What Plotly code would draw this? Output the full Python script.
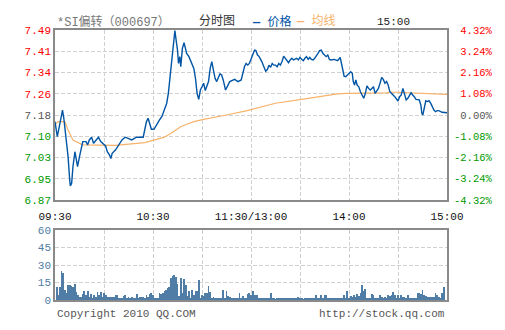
import plotly.graph_objects as go

# ---------------- data ----------------
prev_close = 7.18
pct_ticks = [-4.32, -3.24, -2.16, -1.08, 0.00, 1.08, 2.16, 3.24, 4.32]
price_tick_labels = ["6.87", "6.95", "7.03", "7.10", "7.18", "7.26", "7.34", "7.41", "7.49"]
pct_tick_labels = ["-4.32%", "-3.24%", "-2.16%", "-1.08%", "0.00%", "1.08%", "2.16%", "3.24%", "4.32%"]
time_tick_minutes = [0, 30, 60, 90, 120, 150, 180, 210, 240]
time_tick_labels = ["09:30", "", "10:30", "", "11:30/13:00", "", "14:00", "", "15:00"]
vol_tick_values = [0, 15, 30, 45, 60]

price_minutes = [0, 1.4, 2.6, 4, 4.6, 5.4, 6.6, 8, 9, 9.4, 10.2, 11, 12.2, 13, 13.8, 15, 16, 17, 19, 20,
                 21, 22.4, 23.6, 25, 26.6, 28, 29, 31, 32, 33.4, 34.2, 35, 37, 39, 41, 43, 45, 47, 48.6, 50,
                 54, 55, 56, 57, 58, 59, 60.6, 61.4, 62.6, 64, 65.4, 67, 68.4, 69.4, 70.4, 71.4, 72.6, 73.4, 74, 75,
                 75.6, 76.4, 77, 78, 79, 79.6, 80.6, 82, 83.4, 85, 86, 87, 88, 89, 90, 91, 92, 93, 94, 95,
                 96, 97, 98, 99, 100, 101, 102, 103, 104.4, 105, 107, 110, 112, 114, 115, 116, 117, 118, 119, 120,
                 121, 122.2, 123, 124, 125, 126.6, 128, 129, 130, 131, 132, 133, 134, 135, 136, 137, 138, 139, 140, 141,
                 142, 143, 144, 145, 146, 147, 148, 149, 150, 151, 152, 153, 154, 155, 156, 157, 158, 159, 160, 161,
                 162, 163, 164, 165, 166, 167, 168, 169, 171, 173, 174, 174.6, 175.4, 176.2, 177, 178, 179, 180, 181, 182,
                 182.6, 183.4, 184.2, 185, 186, 187, 188, 189, 190, 191, 192, 193, 194, 195, 196, 197, 198, 199, 200, 201,
                 202, 203, 204, 205, 206, 207, 208, 209, 210, 211, 212, 213, 214, 215, 216, 217, 218, 219, 220, 221,
                 222, 223, 224, 224.6, 225.2, 226, 227, 228, 229, 230, 231, 232, 233, 234, 235, 236, 237, 240]
price_values = [7.156, 7.101, 7.137, 7.180, 7.198, 7.168, 7.107, 7.028, 6.943, 6.921, 6.931, 6.992, 7.046, 7.016, 6.992, 7.028, 7.058, 7.083, 7.083, 7.071,
                7.089, 7.099, 7.077, 7.089, 7.099, 7.083, 7.077, 7.067, 7.046, 7.034, 7.021, 7.040, 7.052, 7.071, 7.089, 7.099, 7.095, 7.089, 7.095, 7.099,
                7.099, 7.125, 7.156, 7.168, 7.150, 7.128, 7.128, 7.137, 7.150, 7.162, 7.174, 7.198, 7.223, 7.259, 7.320, 7.381, 7.454, 7.488, 7.460, 7.417,
                7.368, 7.393, 7.356, 7.423, 7.444, 7.429, 7.405, 7.393, 7.375, 7.350, 7.314, 7.259, 7.237, 7.271, 7.283, 7.296, 7.269, 7.289, 7.302, 7.350,
                7.375, 7.344, 7.314, 7.302, 7.320, 7.330, 7.326, 7.308, 7.271, 7.277, 7.302, 7.310, 7.302, 7.308, 7.338, 7.356, 7.368, 7.362, 7.368, 7.387,
                7.399, 7.417, 7.415, 7.399, 7.393, 7.375, 7.356, 7.340, 7.346, 7.362, 7.354, 7.368, 7.362, 7.362, 7.356, 7.368, 7.362, 7.375, 7.395, 7.387,
                7.375, 7.371, 7.381, 7.387, 7.381, 7.383, 7.387, 7.381, 7.390, 7.383, 7.378, 7.387, 7.393, 7.383, 7.390, 7.383, 7.381, 7.387, 7.399, 7.405,
                7.415, 7.417, 7.405, 7.399, 7.393, 7.399, 7.383, 7.381, 7.383, 7.378, 7.387, 7.390, 7.368, 7.338, 7.322, 7.320, 7.326, 7.330, 7.338, 7.332,
                7.302, 7.289, 7.308, 7.289, 7.283, 7.265, 7.253, 7.241, 7.259, 7.286, 7.277, 7.271, 7.277, 7.283, 7.259, 7.271, 7.277, 7.296, 7.317, 7.310,
                7.296, 7.302, 7.289, 7.265, 7.257, 7.253, 7.247, 7.237, 7.231, 7.247, 7.253, 7.277, 7.253, 7.235, 7.241, 7.253, 7.261, 7.253, 7.247, 7.237,
                7.235, 7.235, 7.216, 7.186, 7.180, 7.204, 7.232, 7.229, 7.232, 7.223, 7.210, 7.198, 7.192, 7.196, 7.196, 7.192, 7.190, 7.188]

avg_minutes = [0, 2, 6, 8, 11, 14, 17, 37, 55, 61, 67, 71, 74, 77, 81, 85, 91, 97, 105, 117,
               135, 151, 165, 173, 179, 203, 205, 209, 235, 240]
avg_values = [7.145, 7.156, 7.156, 7.125, 7.089, 7.079, 7.071, 7.069, 7.079, 7.089, 7.099, 7.113, 7.125, 7.137, 7.147, 7.156, 7.164, 7.172, 7.180, 7.195,
              7.223, 7.237, 7.249, 7.257, 7.259, 7.261, 7.264, 7.263, 7.257, 7.255]

volume_values = [11, 4.6, 11, 24.6, 23, 8.6, 6.3, 12.9, 12.9, 12, 11, 13.7, 6.9, 4, 2.9, 2.9, 5.1, 7.7, 4.6, 7.7,
                 2.3, 5.1, 2, 4, 2.9, 6.9, 4, 6.9, 2.3, 6.3, 4, 2.9, 2.3, 2.9, 2.3, 2.9, 4, 4.6, 2, 2,
                 1.7, 3.4, 4.6, 2, 2.9, 1.1, 2.9, 2, 1.1, 5.1, 2, 2.9, 2.9, 2.9, 2, 4, 2.9, 5.1, 5.7,
                 4, 1.7, 1.1, 2, 6.3, 5.1, 5.7, 7.7, 8.6, 10.3, 10.9, 18.9, 21, 21.7, 20, 13.4, 3.4, 18.9, 6.3, 18.3,
                 12.6, 3.4, 7.7, 2, 8.6, 4, 7.7, 7.7, 17, 1.7, 4, 3.4, 6.3, 5.7, 12, 6.9, 1.7, 2.3, 1.7, 1.1,
                 1.1, 1.7, 1.1, 8.6, 1.1, 7.7, 3.4, 2.9, 1.1, 1.7, 1.1, 1.7, 1.1, 5.7, 1.1, 3.4, 1.7, 1.1, 4.9, 5.7,
                 4.6, 8, 4.6, 4.6, 4.6, 1.1, 1.7, 1.1, 1.7, 2, 1.1, 1.1, 6.3, 1.1, 1.1, 0.6, 1.1, 1.7, 1.7, 1.7,
                 1.1, 0.9, 1.7, 1.1, 0.9, 1.1, 1.7, 1.1, 1.7, 2.9, 1.1, 1.1, 0.6, 0.9, 1.1, 1.7, 0.9, 1.7, 1.1, 1.1,
                 4, 1.1, 1.7, 4, 2, 4.6, 4, 2, 1.1, 1.7, 0.9, 2, 1.1, 2, 1.7, 2, 1.1, 4, 1.7, 8,
                 2, 3.4, 2.3, 4, 2.9, 5.1, 3.4, 6.3, 12.6, 8, 9.7, 2, 1.1, 1.1, 5.1, 4.6, 1.1, 1.7, 1.1, 4.6,
                 2.9, 2, 2.9, 1.1, 4, 3.4, 4.6, 6.9, 4.6, 1.7, 4.6, 2, 4, 2.9, 2.9, 1.7, 4, 1.1, 1.1, 1.7,
                 1.7, 2, 5.7, 5.7, 5.1, 9, 4.6, 3.4, 2.9, 2.9, 2.9, 2.9, 2.9, 5.7, 4, 2.9, 1.1, 5.7, 10.9]
volume_minutes = list(range(1, len(volume_values) + 1))

# ---------------- styling ----------------
FONT = "Liberation Mono, Noto Sans CJK SC, monospace"
GRID = "#d0d0d0"
DASH = "4px,2px"
FRAME = "#8a8a8a"
BLUE = "#0055a5"
ORANGE = "#f7b26b"
VOLC = "#4f7da6"
NB = "\u00a0"


def colored(lbl, pct, width=0):
    c = "#ff0000" if pct > 0 else ("#009900" if pct < 0 else "#555555")
    return f"<span style='color:{c}'>{lbl.rjust(width, NB)}</span>"


tickvals_price = [prev_close * (1 + p / 100) for p in pct_ticks]
left_text = [colored(l, p) for l, p in zip(price_tick_labels, pct_ticks)]
right_text = [colored(l, p, 6) for l, p in zip(pct_tick_labels, pct_ticks)]
yrange = [tickvals_price[0], tickvals_price[-1]]

fig = go.Figure()
fig.add_trace(go.Scatter(x=avg_minutes, y=avg_values, mode="lines",
                         line=dict(color=ORANGE, width=1.2), xaxis="x", yaxis="y"))
fig.add_trace(go.Scatter(x=price_minutes, y=price_values, mode="lines",
                         line=dict(color=BLUE, width=1.4), xaxis="x", yaxis="y"))
# invisible trace to activate the right axis
fig.add_trace(go.Scatter(x=[0, 240], y=yrange, mode="lines", line=dict(width=0),
                         opacity=0, xaxis="x", yaxis="y2", hoverinfo="skip"))
fig.add_trace(go.Bar(x=volume_minutes, y=volume_values, marker=dict(color=VOLC, line=dict(width=0)),
                     width=0.5, xaxis="x2", yaxis="y3"))

main_dom = [(300 - 200) / 270, 1.0]
vol_dom = [0.0, (300 - 230) / 270]

common_x = dict(range=[0, 240], tickvals=time_tick_minutes, showgrid=True, gridcolor=GRID,
                griddash=DASH, gridwidth=1, showline=True, linecolor=FRAME, linewidth=1.6,
                mirror=True, zeroline=False, ticks="")

fig.update_layout(
    width=505, height=330,
    margin=dict(l=55, r=50, t=30, b=30),
    paper_bgcolor="white", plot_bgcolor="white",
    showlegend=False,
    font=dict(family=FONT, size=11, color="#333333"),
    xaxis=dict(**common_x, ticktext=time_tick_labels, domain=[0, 1], anchor="y",
               tickfont=dict(size=11, color="#111111"), ticklabelstandoff=5),
    xaxis2=dict(**common_x, ticktext=[""] * len(time_tick_minutes), showticklabels=False,
                domain=[0, 1], anchor="y3"),
    yaxis=dict(domain=main_dom, range=yrange, tickvals=tickvals_price, ticktext=left_text,
               showgrid=True, gridcolor=GRID, griddash=DASH, zeroline=False,
               showline=True, linecolor=FRAME, linewidth=1.6, mirror=True, ticks="",
               tickfont=dict(size=11), ticklabelstandoff=0),
    yaxis2=dict(domain=main_dom, range=yrange, overlaying="y", side="right", anchor="x",
                tickvals=tickvals_price, ticktext=right_text, showgrid=False, zeroline=False,
                ticks="", tickfont=dict(size=10.5), ticklabelstandoff=6),
    yaxis3=dict(domain=vol_dom, range=[0, 60], tickvals=vol_tick_values,
                ticktext=[str(v) for v in vol_tick_values], anchor="x2",
                showgrid=True, gridcolor=GRID, griddash=DASH, zeroline=False,
                showline=True, linecolor=FRAME, linewidth=1.6, mirror=True, ticks="",
                tickfont=dict(size=11, color="#4f7da6"), ticklabelstandoff=0),
    bargap=0,
)

ann = [
    dict(text="*SI偏转（000697）", x=0.0, y=(300 - 22) / 270, xanchor="left", font=dict(color="#777777", size=12)),
    dict(text="分时图", x=(200 - 55) / 400, y=(300 - 22) / 270, xanchor="left", font=dict(color="#333333", size=12)),
    dict(text="<b>—</b> 价格", x=(254 - 55) / 400, y=(300 - 22) / 270, xanchor="left", font=dict(color=BLUE, size=12)),
    dict(text="<b>—</b> 均线", x=(299 - 55) / 400, y=(300 - 22) / 270, xanchor="left", font=dict(color=ORANGE, size=12)),
    dict(text="15:00", x=(382 - 55) / 400, y=(300 - 22) / 270, xanchor="left", font=dict(color="#222222", size=11)),
    dict(text="Copyright 2010 QQ.COM", x=0.0, y=(300 - 314) / 270, xanchor="left", font=dict(color="#555555", size=11)),
    dict(text="http://stock.qq.com", x=1.0, y=(300 - 314) / 270, xanchor="right", font=dict(color="#555555", size=11)),
]
for a in ann:
    fig.add_annotation(xref="paper", yref="paper", showarrow=False, yanchor="middle", **a)

fig.write_html(
    "out.html",
    config={"displayModeBar": False, "responsive": False},
    post_script="document.body.style.margin='0';document.body.style.overflow='hidden';",
)
